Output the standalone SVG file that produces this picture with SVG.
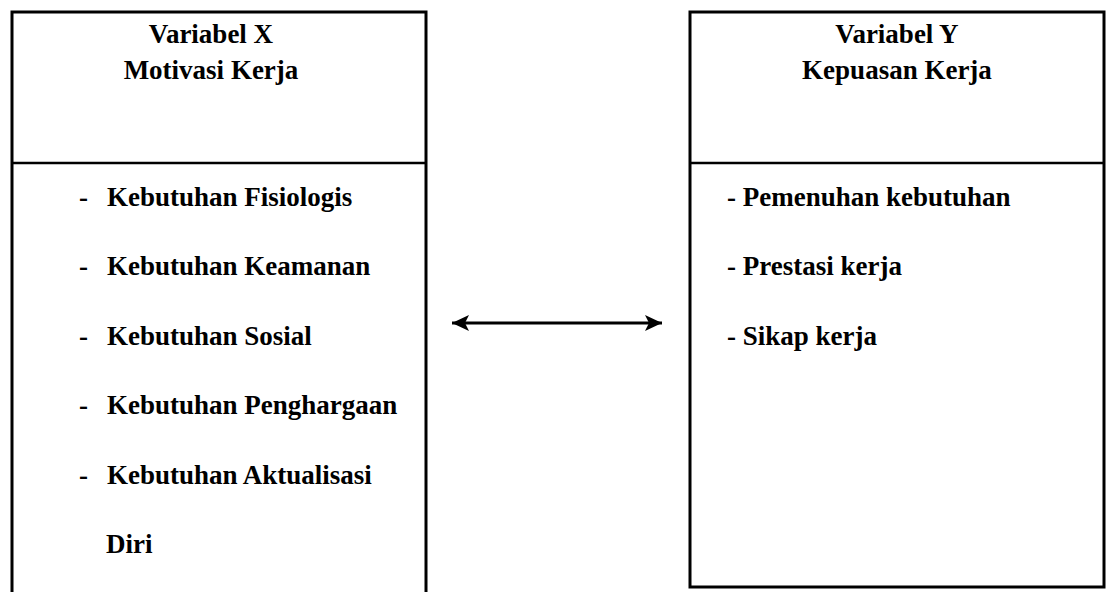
<svg xmlns="http://www.w3.org/2000/svg" width="1106" height="592" viewBox="0 0 1106 592">
<style>
.box{fill:#fff;stroke:#000;stroke-width:3}
.div{stroke:#000;stroke-width:2.5}
.t{font-family:"Liberation Serif","Times New Roman",serif;font-weight:bold;font-size:27px;fill:#000}
.c{text-anchor:middle}
.conn{stroke:#000;stroke-width:3;fill:none}
</style>
<defs>
<marker id="ah" markerUnits="userSpaceOnUse" markerWidth="20" markerHeight="18" refX="17" refY="9" orient="auto-start-reverse">
<path d="M0,1 L17,9 L0,17 L4,9 Z" fill="#000"/>
</marker>
</defs>
<rect width="1106" height="592" fill="#fff"/>
<g id="node-x">
<rect class="box" x="12" y="12" width="414" height="600"/>
<line class="div" x1="12" y1="163" x2="426" y2="163"/>
<text class="t c" x="211" y="43">Variabel X</text>
<text class="t c" x="211" y="79">Motivasi Kerja</text>
<text class="t" x="79" y="206">-</text><text class="t" x="107" y="206">Kebutuhan Fisiologis</text>
<text class="t" x="79" y="275">-</text><text class="t" x="107" y="275">Kebutuhan Keamanan</text>
<text class="t" x="79" y="345">-</text><text class="t" x="107" y="345">Kebutuhan Sosial</text>
<text class="t" x="79" y="414">-</text><text class="t" x="107" y="414">Kebutuhan Penghargaan</text>
<text class="t" x="79" y="484">-</text><text class="t" x="107" y="484">Kebutuhan Aktualisasi</text>
<text class="t" x="106" y="553">Diri</text>
</g>
<g id="node-y">
<rect class="box" x="690" y="12" width="414" height="575"/>
<line class="div" x1="690" y1="163" x2="1104" y2="163"/>
<text class="t c" x="897" y="43">Variabel Y</text>
<text class="t c" x="897" y="79">Kepuasan Kerja</text>
<text class="t" x="727" y="206">- Pemenuhan kebutuhan</text>
<text class="t" x="727" y="275">- Prestasi kerja</text>
<text class="t" x="727" y="345">- Sikap kerja</text>
</g>
<g id="connectors">
<line class="conn" x1="452" y1="323" x2="662" y2="323" marker-start="url(#ah)" marker-end="url(#ah)"/>
</g>
</svg>
